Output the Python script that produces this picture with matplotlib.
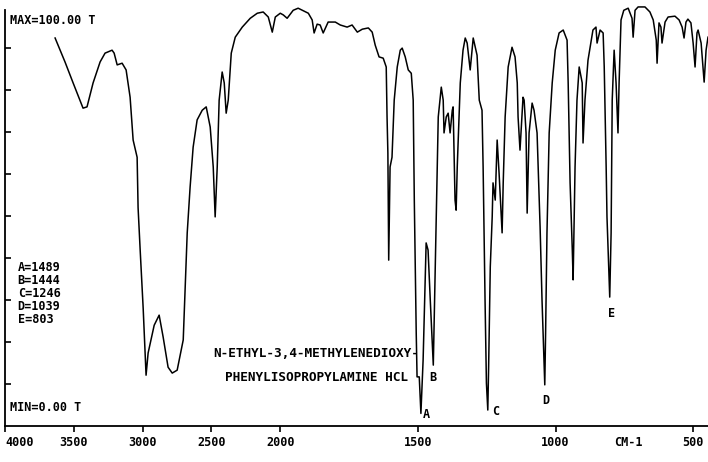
import numpy as np
import matplotlib.pyplot as plt

plt.rcParams["font.family"] = ["DejaVu Sans Mono"]

# IR spectrum, wavenumber (cm-1) vs transmittance (%T)
wavenumber = [3636, 3564, 3505, 3433, 3404, 3360, 3309, 3273, 3222, 3207,
              3185, 3149, 3120, 3091, 3069, 3040, 3033, 3018, 2996, 2975,
              2960, 2916, 2880, 2851, 2815, 2785, 2749, 2727, 2705, 2676,
              2655, 2633, 2604, 2567, 2538, 2509, 2487, 2473, 2458, 2444,
              2422, 2407, 2393, 2378, 2356, 2327, 2276, 2218, 2167, 2124,
              2087, 2058, 2036, 2000, 1989, 1975, 1953, 1935, 1898, 1884,
              1877, 1866, 1855, 1844, 1826, 1800, 1782, 1757, 1739, 1720,
              1702, 1680, 1666, 1655, 1641, 1626, 1615, 1612, 1609, 1606,
              1601, 1594, 1586, 1575, 1564, 1557, 1546, 1535, 1524, 1517,
              1513, 1506, 1503, 1495, 1489, 1481, 1470, 1463, 1455, 1444,
              1437, 1430, 1426, 1415, 1408, 1405, 1397, 1390, 1383, 1375,
              1372, 1365, 1361, 1357, 1346, 1336, 1328, 1321, 1310, 1299,
              1285, 1277, 1267, 1263, 1256, 1251, 1246, 1243, 1237, 1230,
              1227, 1219, 1212, 1205, 1194, 1190, 1183, 1172, 1158, 1147,
              1139, 1136, 1129, 1118, 1114, 1107, 1103, 1096, 1085, 1078,
              1067, 1063, 1056, 1049, 1039, 1036, 1031, 1023, 1012, 1001,
              987, 972, 958, 954, 947, 939, 936, 929, 922, 914,
              903, 900, 893, 882, 864, 853, 849, 838, 827, 823,
              816, 813, 803, 798, 794, 787, 780, 773, 769, 762,
              752, 736, 729, 722, 718, 711, 700, 675, 657, 645,
              634, 631, 624, 617, 613, 602, 591, 566, 551, 540,
              533, 526, 519, 508, 500, 493, 486, 482, 471, 460,
              453, 446]
transmittance = [92.4, 86.7, 81.7, 75.7, 76.0, 81.7, 86.7, 88.8, 89.5, 88.8,
                 86.0, 86.4, 84.8, 78.3, 68.1, 64.0, 52.0, 42.0, 28.0, 12.1,
                 17.4, 24.0, 26.4, 21.2, 14.0, 12.6, 13.3, 16.9, 20.5, 46.0,
                 56.9, 66.4, 72.9, 75.2, 76.0, 71.2, 61.7, 49.8, 61.7, 77.6,
                 84.3, 81.7, 74.5, 77.6, 88.8, 92.6, 95.0, 97.1, 98.3, 98.6,
                 97.4, 93.8, 97.4, 98.3, 97.9, 97.1, 99.0, 99.5, 98.3, 96.7,
                 93.6, 95.7, 95.5, 93.6, 96.2, 96.2, 95.5, 95.0, 95.5, 93.8,
                 94.5, 94.8, 93.8, 90.7, 87.9, 87.6, 85.5, 73.6, 65.0, 39.5,
                 61.7, 64.0, 77.6, 85.5, 89.5, 90.0, 87.9, 84.8, 84.0, 77.6,
                 53.8, 22.1, 11.7, 11.7, 3.0, 15.7, 43.6, 41.9, 30.0, 14.5,
                 37.9, 61.7, 73.6, 80.7, 77.6, 69.8, 73.6, 74.5, 69.8, 75.2,
                 76.0, 53.8, 51.4, 61.7, 81.7, 89.5, 92.4, 91.2, 84.8, 92.4,
                 88.3, 77.6, 75.2, 61.7, 30.0, 10.2, 3.8, 14.0, 37.9, 49.8,
                 57.9, 53.8, 68.1, 60.2, 46.0, 57.9, 73.6, 85.5, 90.2, 87.9,
                 81.7, 73.6, 65.7, 78.3, 77.6, 69.8, 50.7, 69.8, 76.9, 75.2,
                 69.8, 61.7, 47.4, 30.0, 9.8, 22.1, 46.0, 69.8, 81.7, 89.5,
                 93.6, 94.3, 91.9, 81.7, 57.9, 41.9, 34.8, 61.7, 77.6, 85.5,
                 81.7, 67.4, 77.6, 87.1, 94.3, 95.0, 91.2, 94.3, 93.6, 85.5,
                 61.7, 49.8, 30.7, 46.0, 77.6, 89.5, 81.7, 69.8, 81.7, 96.7,
                 99.0, 99.5, 98.3, 97.1, 92.6, 99.0, 99.8, 99.8, 98.6, 96.7,
                 91.9, 86.4, 96.0, 95.0, 91.2, 96.2, 97.4, 97.6, 96.7, 95.0,
                 92.4, 96.2, 96.9, 96.0, 91.2, 85.5, 93.6, 94.3, 91.2, 81.9,
                 89.5, 92.6]

peak_names = ["A", "B", "C", "D", "E"]
peak_wn = [1489, 1444, 1246, 1039, 803]
# label offsets in points (dx, dy) from each peak bottom
peak_offsets = [(3.6, -0.7), (0, -9), (5.8, -1), (0.7, -11), (1.4, -11.5)]

x_ticks = [4000, 3500, 3000, 2500, 2000, 1500, 1000, 500]
compound = "N-ETHYL-3,4-METHYLENEDIOXY-\nPHENYLISOPROPYLAMINE HCL"


# spectrometer chart: scale doubles below 2000 cm-1
def fwd(w):
    w = np.asarray(w, dtype=float)
    return np.where(w >= 2000, w, 2 * w - 2000)


def inv(u):
    u = np.asarray(u, dtype=float)
    return np.where(u >= 2000, u, (u + 2000) / 2)


fig = plt.figure(figsize=(7.08, 4.62), dpi=100)
ax = fig.add_axes([5 / 708, 36 / 462, 703 / 708, 422 / 462])
ax.set_xscale("function", functions=(fwd, inv))
ax.set_xlim(4000, 446)
ax.set_ylim(0, 100.5)

ax.plot(wavenumber, transmittance, color="black", lw=1.1)

for spine in ["top", "right"]:
    ax.spines[spine].set_visible(False)
ax.spines["left"].set_bounds(0, 99)
ax.spines["left"].set_linewidth(1.3)
ax.spines["bottom"].set_linewidth(1.3)

ax.set_yticks(range(10, 100, 10))
ax.tick_params(axis="y", direction="in", length=4, width=1.2, labelleft=False)
ax.set_xticks(x_ticks)
ax.set_xticklabels([str(t) for t in x_ticks], fontsize=8.5, fontweight="bold")
ax.xaxis.set_minor_locator(plt.NullLocator())
ax.tick_params(axis="x", direction="out", length=4, width=1.2, pad=3)
ax.get_xticklabels()[0].set_horizontalalignment("left")

ax.text(0.007, 0.962, "MAX=100.00 T", transform=ax.transAxes, fontsize=8.5,
        fontweight="bold", va="center", ha="left")
ax.text(0.007, 0.043, "MIN=0.00 T", transform=ax.transAxes, fontsize=8.5,
        fontweight="bold", va="center", ha="left")

peak_list = "\n".join(f"{n}={w}" for n, w in zip(peak_names, peak_wn))
ax.text(0.018, 0.39, peak_list, transform=ax.transAxes, fontsize=8.5,
        fontweight="bold", va="top", ha="left", linespacing=0.98)

ax.text(1870, 0.143, compound, transform=ax.get_xaxis_transform(), fontsize=9.2,
        fontweight="bold", va="center", ha="center", linespacing=2.1)

ax.text(735, -0.038, "CM-1", transform=ax.get_xaxis_transform(), fontsize=8.5,
        fontweight="bold", va="center", ha="center")

t_sorted = np.interp(peak_wn, wavenumber[::-1], transmittance[::-1])
for name, w, t, off in zip(peak_names, peak_wn, t_sorted, peak_offsets):
    ax.annotate(name, xy=(w, t), xytext=off, textcoords="offset points",
                fontsize=8.5, fontweight="bold", ha="center", va="center")

fig.savefig("out.png", dpi=100)
